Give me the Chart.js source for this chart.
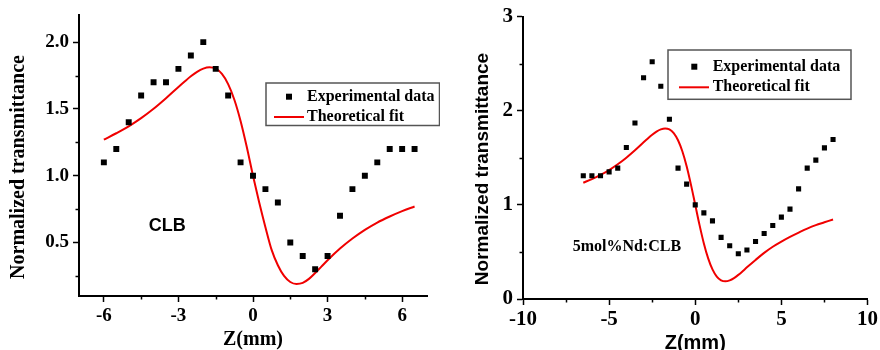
<!DOCTYPE html>
<html>
<head>
<meta charset="utf-8">
<script src="https://cdn.jsdelivr.net/npm/chart.js@4.4.1/dist/chart.umd.min.js"></script>
<style>
  body { margin: 0; background: #fff; }
  #wrap { position: relative; width: 880px; height: 350px; }
  canvas { position: absolute; top: 0; }
</style>
</head>
<body>
<div id="wrap">
  <canvas id="left" width="440" height="350" style="left:0"></canvas>
  <canvas id="right" width="440" height="350" style="left:440px"></canvas>
</div>
<script>
// ---- left panel: CLB ----
const LEFT_Z_EXP = [-6, -5.5, -5, -4.5, -4, -3.5, -3, -2.5, -2, -1.5, -1, -0.5, 0, 0.5, 1, 1.5, 2, 2.5, 3, 3.5, 4, 4.5, 5, 5.5, 6, 6.5];
const LEFT_T_EXP = [1.1, 1.2, 1.4, 1.6, 1.7, 1.7, 1.8, 1.9, 2.0, 1.8, 1.6, 1.1, 1.0, 0.9, 0.8, 0.5, 0.4, 0.3, 0.4, 0.7, 0.9, 1.0, 1.1, 1.2, 1.2, 1.2];
const LEFT_Z_FIT = [-6, -5.5, -5, -4.5, -4, -3.5, -3, -2.75, -2.5, -2.25, -2, -1.75, -1.5, -1.25, -1, -0.75, -0.5, -0.25, 0, 0.25, 0.5, 0.75, 1, 1.25, 1.5, 1.75, 2, 2.25, 2.5, 2.75, 3, 3.5, 4, 4.5, 5, 5.5, 6, 6.5];
const LEFT_T_FIT = [1.27, 1.318, 1.37, 1.431, 1.501, 1.58, 1.664, 1.705, 1.744, 1.778, 1.802, 1.812, 1.801, 1.762, 1.686, 1.569, 1.41, 1.215, 1.0, 0.8, 0.615, 0.445, 0.33, 0.25, 0.205, 0.19, 0.198, 0.228, 0.272, 0.32, 0.368, 0.455, 0.53, 0.595, 0.65, 0.695, 0.735, 0.77];
const LEFT_X_TICKS = [-6, -3, 0, 3, 6];
const LEFT_X_MINOR = [-4.5, -1.5, 1.5, 4.5];
const LEFT_Y_TICKS = [0.5, 1.0, 1.5, 2.0];
const LEFT_Y_MINOR = [0.25, 0.75, 1.25, 1.75];

// ---- right panel: 5mol%Nd:CLB ----
const RIGHT_Z_EXP = [-6.5, -6, -5.5, -5, -4.5, -4, -3.5, -3, -2.5, -2, -1.5, -1, -0.5, 0, 0.5, 1, 1.5, 2, 2.5, 3, 3.5, 4, 4.5, 5, 5.5, 6, 6.5, 7, 7.5, 8];
const RIGHT_T_EXP = [1.31, 1.31, 1.31, 1.35, 1.39, 1.61, 1.87, 2.35, 2.52, 2.26, 1.91, 1.39, 1.22, 1.0, 0.915, 0.83, 0.655, 0.565, 0.48, 0.52, 0.61, 0.695, 0.78, 0.87, 0.955, 1.17, 1.39, 1.475, 1.605, 1.695];
const RIGHT_Z_FIT = [-6.5, -6, -5.5, -5, -4.5, -4, -3.5, -3, -2.75, -2.5, -2.25, -2, -1.75, -1.5, -1.25, -1, -0.75, -0.5, -0.25, 0, 0.25, 0.5, 0.75, 1, 1.25, 1.5, 1.75, 2, 2.25, 2.5, 2.75, 3, 3.5, 4, 4.5, 5, 5.5, 6, 6.5, 7, 7.5, 8];
const RIGHT_T_FIT = [1.235, 1.274, 1.318, 1.37, 1.431, 1.501, 1.58, 1.664, 1.705, 1.744, 1.778, 1.802, 1.812, 1.801, 1.762, 1.686, 1.569, 1.41, 1.215, 1.0, 0.785, 0.59, 0.431, 0.314, 0.238, 0.199, 0.188, 0.198, 0.222, 0.256, 0.295, 0.336, 0.415, 0.49, 0.555, 0.61, 0.66, 0.705, 0.748, 0.785, 0.815, 0.845];
const RIGHT_X_TICKS = [-10, -5, 0, 5, 10];
const RIGHT_X_MINOR = [-7.5, -2.5, 2.5, 7.5];
const RIGHT_Y_TICKS = [0, 1, 2, 3];
const RIGHT_Y_MINOR = [0.5, 1.5, 2.5];

const SERIF = "'Liberation Serif', 'Times New Roman', serif";
const SANS = "'Liberation Sans', Arial, sans-serif";
const RED = 'rgb(240, 0, 0)';

const toPoints = (xs, ys) => xs.map((x, i) => ({ x: x, y: ys[i] }));

// minor ticks, rotated y title, text note and boxed legend
const decor = {
    id: 'decor',
    afterDatasetsDraw(chart, args, o) {
        const ctx = chart.ctx;
        const area = chart.chartArea;
        const sx = chart.scales.x, sy = chart.scales.y;
        ctx.save();
        ctx.strokeStyle = '#000';
        ctx.lineWidth = 1.5;
        o.minorX.forEach(v => {
            const px = Math.round(sx.getPixelForValue(v)) + 0.5;
            ctx.beginPath(); ctx.moveTo(px, area.bottom); ctx.lineTo(px, area.bottom + 3.5); ctx.stroke();
        });
        o.minorY.forEach(v => {
            const py = Math.round(sy.getPixelForValue(v)) + 0.5;
            ctx.beginPath(); ctx.moveTo(area.left, py); ctx.lineTo(area.left - 3.5, py); ctx.stroke();
        });

        // y axis title
        ctx.fillStyle = '#000';
        ctx.font = o.yTitle.font;
        ctx.textAlign = 'center';
        ctx.textBaseline = 'middle';
        ctx.save();
        ctx.translate(o.yTitle.x, o.yTitle.y);
        ctx.rotate(-Math.PI / 2);
        ctx.fillText(o.yTitle.text, 0, 0);
        ctx.restore();

        // sample note
        ctx.font = o.note.font;
        ctx.fillText(o.note.text, sx.getPixelForValue(o.note.z), sy.getPixelForValue(o.note.t));

        // legend box
        const lg = o.legend;
        const ds = chart.data.datasets;
        ctx.strokeStyle = '#555';
        ctx.lineWidth = 1.5;
        ctx.strokeRect(lg.x, lg.y, lg.w, lg.h);
        ctx.fillStyle = ds[0].backgroundColor;
        ctx.fillRect(lg.markX - 3, lg.row1 - 3, 6, 6);
        ctx.strokeStyle = ds[1].borderColor;
        ctx.lineWidth = ds[1].borderWidth;
        ctx.beginPath(); ctx.moveTo(lg.lineX0, lg.row2); ctx.lineTo(lg.lineX1, lg.row2); ctx.stroke();
        ctx.fillStyle = '#000';
        ctx.font = 'bold 16px ' + SERIF;
        ctx.textAlign = 'left';
        ctx.fillText(ds[0].label, lg.textX, lg.row1);
        ctx.fillText(ds[1].label, lg.textX, lg.row2);
        ctx.restore();
    }
};

function makeConfig(p) {
    const tickFont = { family: SERIF, size: p.tickSize, weight: 'bold' };
    const grid = { drawOnChartArea: false, tickLength: 6, tickWidth: 1.5, tickColor: '#000' };
    const border = { color: '#000', width: 2 };
    return {
        type: 'scatter',
        data: {
            datasets: [
                {
                    label: 'Experimental data',
                    data: toPoints(p.zExp, p.tExp),
                    backgroundColor: '#000',
                    borderWidth: 0,
                    pointStyle: 'rect',
                    pointRadius: p.markR
                },
                {
                    label: 'Theoretical fit',
                    data: toPoints(p.zFit, p.tFit),
                    showLine: true,
                    borderColor: RED,
                    borderWidth: 2,
                    pointRadius: 0,
                    cubicInterpolationMode: 'monotone'
                }
            ]
        },
        options: {
            responsive: false,
            animation: false,
            devicePixelRatio: 1,
            events: [],
            layout: { padding: p.padding },
            plugins: {
                legend: { display: false },
                tooltip: { enabled: false },
                decor: p.decor
            },
            scales: {
                x: {
                    type: 'linear',
                    min: p.xMin,
                    max: p.xMax,
                    border: border,
                    grid: grid,
                    afterFit: s => { s.height = p.xHeight; },
                    afterBuildTicks: s => { s.ticks = p.xTicks.map(v => ({ value: v })); },
                    ticks: { font: tickFont, color: '#000', padding: p.xPad, maxRotation: 0, autoSkip: false, callback: v => String(v) },
                    title: { display: true, text: 'Z(mm)', color: '#000', font: p.xTitleFont, padding: { top: 0, bottom: p.xTitlePad } }
                },
                y: {
                    type: 'linear',
                    min: p.yMin,
                    max: p.yMax,
                    border: border,
                    grid: grid,
                    afterFit: s => { s.width = p.yWidth; },
                    afterBuildTicks: s => { s.ticks = p.yTicks.map(v => ({ value: v })); },
                    ticks: { font: tickFont, color: '#000', padding: 4, autoSkip: false, callback: p.yFmt }
                }
            }
        },
        plugins: [decor]
    };
}

new Chart(document.getElementById('left'), makeConfig({
    zExp: LEFT_Z_EXP, tExp: LEFT_T_EXP, zFit: LEFT_Z_FIT, tFit: LEFT_T_FIT,
    xTicks: LEFT_X_TICKS, yTicks: LEFT_Y_TICKS,
    xMin: -7, xMax: 7, yMin: 0.1, yMax: 2.2,
    yFmt: v => v.toFixed(1),
    tickSize: 19, markR: 4.2, xPad: 3,
    padding: { top: 14, right: 13, left: 0, bottom: 0 },
    xHeight: 54, yWidth: 79,
    xTitleFont: { family: SERIF, size: 20, weight: 'bold', lineHeight: 1 }, xTitlePad: 0,
    decor: {
        minorX: LEFT_X_MINOR, minorY: LEFT_Y_MINOR,
        yTitle: { text: 'Normalized transmittance', font: 'bold 20px ' + SERIF, x: 19, y: 167 },
        note: { text: 'CLB', font: 'bold 18px ' + SANS, z: -3.45, t: 0.62 },
        legend: { x: 266, y: 83, w: 173.5, h: 42.5, markX: 289, row1: 96.7, lineX0: 274, lineX1: 304, row2: 117, textX: 307 }
    }
}));

new Chart(document.getElementById('right'), makeConfig({
    zExp: RIGHT_Z_EXP, tExp: RIGHT_T_EXP, zFit: RIGHT_Z_FIT, tFit: RIGHT_T_FIT,
    xTicks: RIGHT_X_TICKS, yTicks: RIGHT_Y_TICKS,
    xMin: -10, xMax: 10, yMin: 0, yMax: 3,
    yFmt: v => String(v),
    tickSize: 21, markR: 3.6, xPad: 2,
    padding: { top: 16, right: 9, left: 0, bottom: 0 },
    xHeight: 51, yWidth: 83,
    xTitleFont: { family: SANS, size: 20, weight: 'bold', lineHeight: 1 }, xTitlePad: -3,
    decor: {
        minorX: RIGHT_X_MINOR, minorY: RIGHT_Y_MINOR,
        yTitle: { text: 'Normalized transmittance', font: 'bold 19px ' + SANS, x: 43, y: 169 },
        note: { text: '5mol%Nd:CLB', font: 'bold 16px ' + SERIF, z: -3.97, t: 0.55 },
        legend: { x: 228, y: 50, w: 183, h: 49.3, markX: 254.3, row1: 66.7, lineX0: 239, lineX1: 269, row2: 87.3, textX: 272.7 }
    }
}));
</script>
</body>
</html>
